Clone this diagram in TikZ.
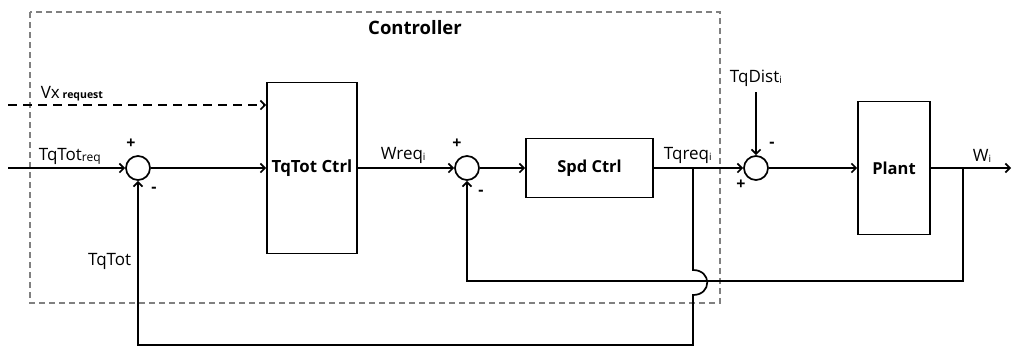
\documentclass[tikz,border=0pt]{standalone}
\usepackage{fontspec}
\setmainfont{Open Sans}
\usetikzlibrary{arrows.meta}
\begin{document}
\begin{tikzpicture}[x=1pt,y=-1pt,
  line width=1.7pt,
  ar/.style={-{Straight Barb[length=4.5pt,width=9pt,line width=1.7pt]}},
  blk/.style={draw, line width=1.7pt, font=\bfseries\fontsize{16.5}{19}\selectfont, inner sep=0pt},
  sumn/.style={draw, circle, minimum size=24pt, inner sep=0pt, line width=1.7pt},
  lbl/.style={font=\fontsize{17}{19}\selectfont, inner sep=0pt, anchor=base west},
  sgn/.style={font=\bfseries\fontsize{16}{18}\selectfont, inner sep=0pt}]
\useasboundingbox (0,0) rectangle (1012,349);
% controller frame
\draw[gray, dash pattern=on 6pt off 4pt, line width=1.5pt] (30,12) rectangle (720,303);
\node[font=\bfseries\fontsize{18.5}{21}\selectfont, inner sep=0pt, anchor=base] (ctl) at (415,34) {Controller};
% blocks
\node[blk, minimum width=90pt, minimum height=171pt, font=\bfseries\fontsize{16.8}{19}\selectfont] (b1) at (312,168) {TqTot Ctrl};
\node[blk, minimum width=127pt, minimum height=59pt] (b2) at (589.5,168) {Spd Ctrl};
\node[blk, minimum width=72pt, minimum height=133pt] (b3) at (894,168) {Plant};
% summing junctions
\node[sumn] (s1) at (138,168) {};
\node[sumn] (s2) at (467,168) {};
\node[sumn] (s3) at (756,168) {};
% signs
\node[sgn] (p1) at (131,144) {+};
\node[sgn] (m1) at (154,190) {-};
\node[sgn] (p2) at (457,144) {+};
\node[sgn] (m2) at (481,193) {-};
\node[sgn] (m3) at (772,145) {-};
\node[sgn] (p3) at (741,185) {+};
% coordinates
\coordinate (in1) at (8,168);
\coordinate (vx) at (8,105);
\coordinate (out) at (1011,168);
\coordinate (dist) at (756,92);
\coordinate (wbr) at (963,168);
\coordinate (tbr) at (693,168);
\coordinate (hopA) at (693,270);
\coordinate (hopB) at (693,295);
% labels
\node[lbl] (l1) at (38,160) {TqTot\raisebox{-1.5pt}{\fontsize{12}{14}\selectfont req}};
\node[lbl] (l2) at (40,98) {Vx\,\raisebox{-0.5pt}{\bfseries\fontsize{10.5}{12}\selectfont request}};
\node[lbl] (l3) at (380,159) {Wreq\raisebox{-1pt}{\fontsize{10}{12}\selectfont i}};
\node[lbl] (l4) at (663,159) {Tqreq\raisebox{-1pt}{\fontsize{10}{12}\selectfont i}};
\node[lbl] (l5) at (729,82) {TqDist\raisebox{-1pt}{\fontsize{10}{12}\selectfont i}};
\node[lbl] (l6) at (972,161) {W\raisebox{-1pt}{\fontsize{10}{12}\selectfont i}};
\node[lbl, anchor=base east] (l7) at (132,265) {TqTot};
% forward path
\draw[ar] (in1) -- (s1.west);
\draw[ar, dash pattern=on 9pt off 6pt] (vx) -- (b1.west |- vx);
\draw[ar] (s1.east) -- (b1.west);
\draw[ar] (b1.east) -- (s2.west);
\draw[ar] (s2.east) -- (b2.west);
\draw[ar] (b2.east) -- (s3.west);
\draw[ar] (s3.east) -- (b3.west);
\draw[ar] (b3.east) -- (out);
\draw[ar] (dist) -- (s3.north);
% feedback paths
\draw[ar] (wbr) -- (963,281) -- (s2 |- 0,281) -- (s2.south);
\draw[ar] (tbr) -- (hopA) .. controls (712,270) and (712,295) .. (hopB) -- (693,345) -- (s1 |- 0,345) -- (s1.south);
\end{tikzpicture}
\end{document}
